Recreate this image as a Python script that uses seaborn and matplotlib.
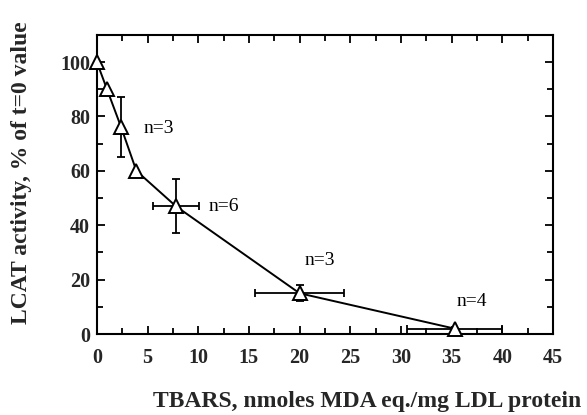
import matplotlib
matplotlib.use("Agg")
import matplotlib.pyplot as plt
import seaborn as sns
import pandas as pd
import numpy as np
from matplotlib.ticker import MultipleLocator

# Data
tbars = [0, 1.0, 2.4, 3.9, 7.8, 20.0, 35.3]
lcat = [100, 90, 76, 60, 47, 15, 2]
x_err = [0, 0, 0, 0, 2.3, 4.4, 4.7]
y_err = [0, 0, 11, 0, 10, 3, 0]
n_labels = ["n=3", "n=6", "n=3", "n=4"]
n_label_x = [4.6, 11.0, 22.0, 37.0]
n_label_y = [75.5, 47, 27, 12]
n_label_ha = ["left", "left", "center", "center"]

x_ticks = [0, 5, 10, 15, 20, 25, 30, 35, 40, 45]
y_ticks = [0, 20, 40, 60, 80, 100]

sns.set_style("ticks")
serif = ["Liberation Serif", "DejaVu Serif"]
plt.rcParams["font.family"] = serif

df = pd.DataFrame({"tbars": tbars, "lcat": lcat})

fig = plt.figure(figsize=(5.87, 4.15), dpi=100)
ax = fig.add_axes([0.165, 0.195, 0.777, 0.721])

# error bars
xe = np.array(x_err, dtype=float)
ye = np.array(y_err, dtype=float)
mask = (xe > 0) | (ye > 0)
ax.errorbar(np.array(tbars)[mask], np.array(lcat)[mask],
            xerr=xe[mask], yerr=ye[mask], fmt="none",
            ecolor="black", elinewidth=1.3, capsize=3, capthick=1.3, zorder=2)

sns.lineplot(data=df, x="tbars", y="lcat", ax=ax, color="black",
             linewidth=1.4, marker="^", markersize=10,
             markerfacecolor="white", markeredgecolor="black",
             markeredgewidth=1.4, zorder=3, clip_on=False)

for t, x, y, ha in zip(n_labels, n_label_x, n_label_y, n_label_ha):
    ax.text(x, y, t, ha=ha, va="center", fontsize=14, color="black",
            family=serif)

ax.set_xlim(0, 45)
ax.set_ylim(0, 110)
ax.set_xticks(x_ticks)
ax.set_yticks(y_ticks)
ax.xaxis.set_minor_locator(MultipleLocator(2.5))
ax.yaxis.set_minor_locator(MultipleLocator(10))
ax.tick_params(which="both", direction="in", top=True, right=True,
               width=1.3, color="black")
ax.tick_params(which="major", length=6, labelsize=14.5)
ax.tick_params(which="minor", length=4)
ax.tick_params(axis="x", which="major", pad=10)
ax.tick_params(axis="y", which="major", pad=5)
for lab in ax.get_xticklabels() + ax.get_yticklabels():
    lab.set_fontweight("bold")
for s in ax.spines.values():
    s.set_visible(True)
    s.set_linewidth(1.5)
    s.set_color("black")

ax.set_xlabel("TBARS, nmoles MDA eq./mg LDL protein", fontsize=17,
              fontweight="bold")
ax.set_ylabel("LCAT activity, % of t=0 value", fontsize=17,
              fontweight="bold")
ax.xaxis.set_label_coords(0.592, -0.19)
ax.yaxis.set_label_coords(-0.142, 0.538)

fig.savefig("out.png", dpi=100)
